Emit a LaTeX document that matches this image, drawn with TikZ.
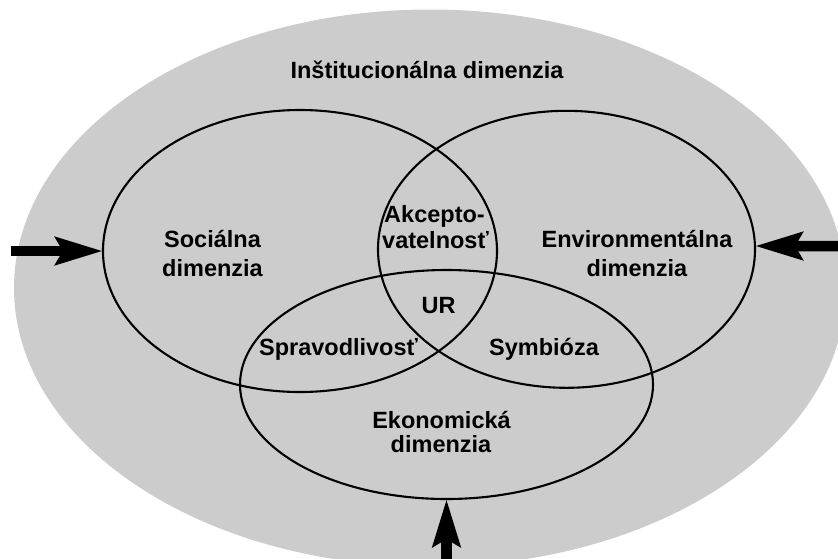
\documentclass[tikz,border=0pt]{standalone}
\usepackage{fontspec}
\setmainfont{Liberation Sans}
\usetikzlibrary{shapes.geometric,arrows.meta}
\definecolor{bggrey}{RGB}{204,204,204}
\begin{document}
\begin{tikzpicture}[x=1pt,y=-1pt,
  ring/.style={draw=black, line width=2.1pt, ellipse, inner sep=0pt, outer sep=0pt},
  lbl/.style={font=\bfseries\fontsize{23.5}{28}\selectfont, anchor=base, inner sep=0pt},
  bigarrow/.style={line width=10.5pt, -{Stealth[length=47pt,width=27pt,inset=7pt]}}]
\useasboundingbox (0,0) rectangle (838,558);
\node[ellipse, fill=bggrey, minimum width=832pt, minimum height=557pt, inner sep=0pt] (inst) at (430,288) {};
\node[ring, minimum width=394pt, minimum height=282pt] (soc) at (300,251) {};
\node[ring, minimum width=377pt, minimum height=277pt] (env) at (566.5,249.3) {};
\node[ring, minimum width=413pt, minimum height=229pt] (eco) at (446.5,384.5) {};
\node[lbl] (instlbl) at (427,78) {Inštitucionálna dimenzia};
\node[lbl] (soc1) at (212.5,247) {Sociálna};
\node[lbl] (soc2) at (212.5,276.5) {dimenzia};
\node[lbl] (env1) at (637,247) {Environmentálna};
\node[lbl] (env2) at (637,276.5) {dimenzia};
\node[lbl] (acc1) at (434.5,222) {Akcepto-};
\node[lbl] (acc2) at (435.5,248) {vatelnosť};
\node[lbl] (ur) at (438.5,313) {UR};
\node[lbl] (spr) at (338.5,355) {Spravodlivosť};
\node[lbl] (sym) at (544,355) {Symbióza};
\node[lbl] (eko1) at (441.5,428) {Ekonomická};
\node[lbl] (eko2) at (441,452.5) {dimenzia};
\coordinate (lin) at (11,251);
\coordinate (rin) at (845,246);
\coordinate (bin) at (446.5,565);
\draw[bigarrow] (lin) -- (soc.west);
\draw[bigarrow] (rin) -- (env.1);
\draw[bigarrow] (bin) -- (eco.south);
\end{tikzpicture}
\end{document}
